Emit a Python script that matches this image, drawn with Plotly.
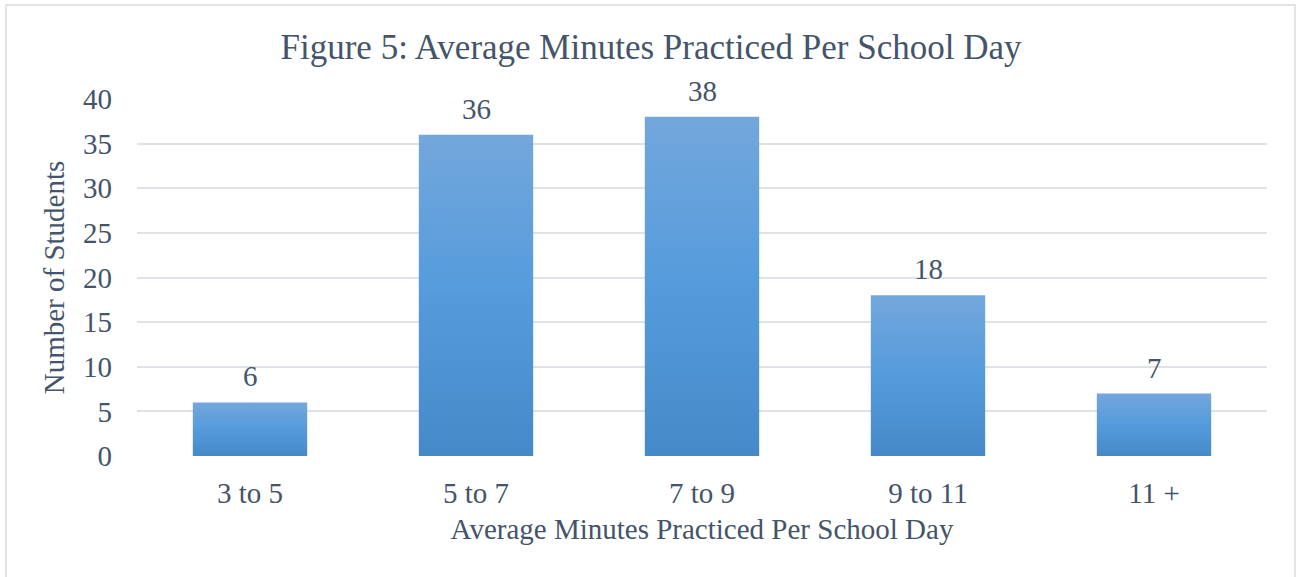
import plotly.graph_objects as go

# Survey results: students grouped by average minutes practiced per school day
categories = ["3 to 5", "5 to 7", "7 to 9", "9 to 11", "11 +"]
students = [6, 36, 38, 18, 7]
y_ticks = [0, 5, 10, 15, 20, 25, 30, 35, 40]

TEXT = "#44546a"
FONT = "Liberation Serif"
BAR_HALF = 0.253
GRAD = [[0.0, "#4689c8"], [0.5, "#559bdc"], [1.0, "#73a7dc"]]

W, H = 1297, 577
L, R, T, B = 137, 30, 99, 121
pw, ph = W - L - R, H - T - B

fig = go.Figure()

# each bar as a filled rectangle with a vertical gradient
for i, v in enumerate(students):
    fig.add_trace(go.Scatter(
        x=[i - BAR_HALF, i + BAR_HALF, i + BAR_HALF, i - BAR_HALF, i - BAR_HALF],
        y=[0, 0, v, v, 0],
        mode="lines",
        line=dict(width=0),
        fill="toself",
        fillgradient=dict(type="vertical", colorscale=GRAD),
        hoverinfo="skip",
        showlegend=False,
    ))

# value labels above the bars
for i, v in enumerate(students):
    fig.add_annotation(
        x=i, y=v, text=str(v), showarrow=False,
        xanchor="center", yanchor="bottom", yshift=8,
        font=dict(family=FONT, size=29, color=TEXT),
    )

# light frame around the chart
fig.add_shape(
    type="rect", xref="paper", yref="paper",
    x0=(6 - L) / pw, x1=(1295 - L) / pw,
    y0=(H - B - 600) / ph, y1=(H - B - 5) / ph,
    line=dict(color="#d9dce1", width=1.5),
    fillcolor="rgba(0,0,0,0)", layer="below",
)

fig.update_layout(
    width=W, height=H,
    margin=dict(l=L, r=R, t=T, b=B),
    paper_bgcolor="white", plot_bgcolor="white",
    font=dict(family=FONT, color=TEXT),
    title=dict(
        text="Figure 5: Average Minutes Practiced Per School Day",
        font=dict(family=FONT, size=35, color=TEXT),
        x=(651 - L) / pw, xref="paper", xanchor="center",
        y=1 - 47 / H, yanchor="middle",
    ),
    xaxis=dict(
        range=[-0.5, len(categories) - 0.5],
        tickvals=list(range(len(categories))),
        ticktext=categories,
        tickfont=dict(family=FONT, size=29, color=TEXT),
        showgrid=False, zeroline=False, showline=False,
        ticks="", ticklabelstandoff=17,
        title=dict(text="Average Minutes Practiced Per School Day",
                   font=dict(family=FONT, size=29, color=TEXT), standoff=10),
        fixedrange=True,
    ),
    yaxis=dict(
        range=[0, 40],
        tickvals=y_ticks,
        tickfont=dict(family=FONT, size=29, color=TEXT),
        showgrid=True, gridcolor="#dfe2e7", gridwidth=1.5,
        zeroline=False, showline=False,
        ticks="", ticklabelstandoff=24,
        title=dict(text="Number of Students",
                   font=dict(family=FONT, size=29, color=TEXT), standoff=9),
        fixedrange=True,
    ),
)

fig.write_html("out.html")
